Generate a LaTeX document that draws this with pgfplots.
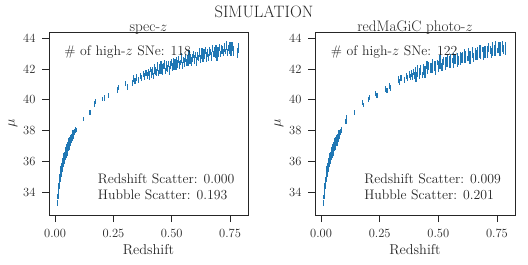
\documentclass[border=0pt]{standalone}
\usepackage{fontspec}
\usepackage{pgfplots}
\usepackage{pgfplotstable}
\pgfplotsset{compat=1.18}
\definecolor{tabblue}{HTML}{1F77B4}
\definecolor{axgray}{HTML}{262626}

\pgfplotstableread{
z mu e
0.010 33.22 0.14
0.011 33.28 0.18
0.012 33.69 0.12
0.013 33.70 0.16
0.014 33.99 0.20
0.015 33.93 0.13
0.016 34.22 0.17
0.017 34.43 0.15
0.018 34.39 0.14
0.019 34.72 0.18
0.020 34.58 0.12
0.021 34.83 0.16
0.022 34.88 0.20
0.023 35.09 0.13
0.024 34.95 0.17
0.025 35.24 0.15
0.026 35.32 0.14
0.027 35.25 0.18
0.028 35.55 0.12
0.029 35.47 0.16
0.030 35.67 0.20
0.031 35.53 0.13
0.032 35.75 0.17
0.033 35.90 0.15
0.034 35.79 0.14
0.035 36.07 0.18
0.036 35.88 0.12
0.037 36.08 0.16
0.038 36.09 0.20
0.039 36.26 0.13
0.040 36.09 0.17
0.041 36.34 0.15
0.042 36.39 0.14
0.043 36.29 0.18
0.044 36.56 0.12
0.045 36.45 0.16
0.046 36.62 0.20
0.047 36.46 0.13
0.048 36.66 0.17
0.049 36.78 0.15
0.050 36.66 0.14
0.051 36.91 0.18
0.052 36.71 0.12
0.053 36.89 0.16
0.054 36.88 0.20
0.055 37.04 0.13
0.056 36.85 0.17
0.057 37.09 0.15
0.058 37.12 0.14
0.059 37.00 0.18
0.060 37.26 0.12
0.061 37.14 0.16
0.062 37.30 0.20
0.063 37.12 0.13
0.064 37.31 0.17
0.065 37.42 0.15
0.066 37.29 0.14
0.067 37.53 0.18
0.068 37.32 0.12
0.069 37.49 0.16
0.070 37.47 0.20
0.071 37.62 0.13
0.072 37.42 0.17
0.073 37.65 0.15
0.074 37.67 0.14
0.075 37.55 0.18
0.076 37.80 0.12
0.077 37.67 0.16
0.078 37.82 0.20
0.079 37.64 0.13
0.080 37.82 0.17
0.082 37.96 0.15
0.084 37.84 0.14
0.086 38.02 0.18
0.0115 33.26 0.15
0.0135 34.08 0.17
0.0155 33.95 0.14
0.0175 34.60 0.16
0.0195 34.36 0.18
0.0215 35.00 0.15
0.0235 34.93 0.14
0.0255 35.50 0.17
0.0275 35.15 0.16
0.0295 35.73 0.15
0.0315 35.50 0.18
0.0335 36.06 0.14
0.0355 35.81 0.16
0.0375 36.36 0.17
0.0395 35.94 0.15
0.0415 36.43 0.18
0.0435 36.23 0.14
0.0455 36.76 0.16
0.0475 36.40 0.17
0.0495 36.88 0.15
0.0515 36.53 0.18
0.0535 37.10 0.14
0.0555 36.83 0.16
0.0575 37.31 0.17
0.0595 36.89 0.15
0.0615 37.39 0.18
0.0635 37.10 0.14
0.0655 37.55 0.16
0.0675 37.16 0.17
0.0695 37.64 0.15
0.0715 37.35 0.18
0.0735 37.86 0.14
0.0755 37.49 0.16
0.0775 37.87 0.17
0.0795 37.57 0.15
}\lowz

\pgfplotstableread{
z mu e
0.093 38.02 0.15
0.121 38.75 0.16
0.150 39.18 0.15
0.169 39.72 0.17
0.173 39.90 0.15
0.204 40.05 0.16
0.213 40.12 0.18
0.229 40.30 0.17
0.266 40.62 0.18
0.273 40.80 0.16
0.301 41.05 0.18
0.309 40.85 0.20
0.331 41.10 0.19
0.337 41.38 0.20
0.343 41.22 0.18
0.350 41.45 0.20
0.358 41.30 0.19
0.366 41.55 0.22
0.372 41.42 0.20
0.378 41.66 0.21
0.384 41.50 0.22
0.390 41.74 0.20
0.395 41.55 0.23
0.399 41.80 0.21
0.402 41.79 0.22
0.406 41.57 0.28
0.410 41.96 0.18
0.414 41.71 0.32
0.418 41.87 0.24
0.422 41.53 0.20
0.426 42.00 0.30
0.430 41.88 0.26
0.434 41.76 0.22
0.438 42.16 0.28
0.442 41.73 0.18
0.446 42.01 0.32
0.450 41.90 0.24
0.454 42.30 0.20
0.458 42.00 0.30
0.462 41.86 0.26
0.466 42.19 0.22
0.470 42.29 0.28
0.474 41.86 0.18
0.478 42.19 0.32
0.482 42.05 0.24
0.486 42.32 0.20
0.490 41.90 0.30
0.494 42.26 0.26
0.498 42.42 0.22
0.502 42.12 0.28
0.506 42.55 0.18
0.510 42.24 0.32
0.514 42.41 0.24
0.518 42.12 0.20
0.522 42.49 0.30
0.526 42.35 0.26
0.530 42.61 0.22
0.534 42.25 0.28
0.538 42.44 0.18
0.542 42.70 0.32
0.546 42.22 0.24
0.550 42.61 0.20
0.554 42.43 0.30
0.558 42.73 0.26
0.562 42.43 0.22
0.566 42.64 0.28
0.570 42.38 0.18
0.574 42.89 0.32
0.578 42.59 0.24
0.582 42.79 0.20
0.586 42.48 0.30
0.590 42.71 0.26
0.594 42.93 0.22
0.598 42.61 0.28
0.602 42.91 0.18
0.606 42.49 0.32
0.610 42.85 0.24
0.614 42.72 0.20
0.618 43.07 0.30
0.622 42.66 0.26
0.626 42.85 0.22
0.630 43.06 0.28
0.634 42.64 0.18
0.638 43.01 0.32
0.642 42.90 0.24
0.646 43.21 0.20
0.650 42.79 0.30
0.654 43.02 0.26
0.658 42.73 0.22
0.662 43.15 0.28
0.666 43.10 0.18
0.670 42.82 0.32
0.674 43.35 0.24
0.678 42.97 0.20
0.682 43.11 0.30
0.686 42.96 0.26
0.690 43.32 0.22
0.694 42.83 0.28
0.698 43.26 0.18
0.702 43.10 0.32
0.706 43.41 0.24
0.710 43.00 0.20
0.714 43.28 0.30
0.718 43.22 0.26
0.722 43.08 0.22
0.726 43.42 0.28
0.730 43.15 0.18
0.734 43.53 0.32
0.738 43.06 0.24
0.742 43.36 0.20
0.746 43.28 0.30
0.750 43.47 0.26
0.754 43.07 0.22
0.758 43.46 0.28
0.762 43.41 0.18
0.766 43.20 0.32
0.781 43.05 0.30
0.786 43.38 0.33
}\highzspec

\pgfplotstableread{
z mu e
0.088 38.05 0.15
0.106 38.60 0.16
0.110 38.85 0.15
0.144 39.15 0.16
0.175 39.80 0.17
0.180 39.65 0.15
0.202 40.02 0.16
0.208 40.15 0.18
0.232 40.40 0.17
0.238 40.28 0.16
0.275 40.70 0.18
0.281 40.58 0.17
0.290 40.88 0.19
0.296 40.75 0.18
0.330 41.32 0.20
0.335 41.18 0.19
0.341 41.42 0.18
0.356 41.30 0.20
0.364 41.55 0.21
0.370 41.40 0.20
0.376 41.62 0.22
0.382 41.48 0.20
0.387 41.70 0.21
0.391 41.52 0.22
0.395 41.78 0.20
0.399 41.60 0.23
0.405 41.49 0.32
0.404 41.86 0.24
0.411 41.65 0.20
0.411 41.97 0.30
0.420 41.62 0.26
0.422 41.86 0.22
0.425 41.95 0.28
0.433 41.60 0.18
0.437 42.03 0.32
0.436 41.88 0.24
0.443 42.00 0.20
0.443 41.74 0.30
0.452 42.25 0.26
0.454 41.90 0.22
0.457 42.21 0.28
0.465 41.90 0.18
0.469 42.09 0.32
0.468 42.18 0.24
0.475 41.93 0.20
0.475 42.38 0.30
0.484 42.10 0.26
0.486 42.30 0.22
0.489 41.91 0.28
0.497 42.44 0.18
0.501 42.12 0.32
0.500 42.30 0.24
0.507 42.20 0.20
0.507 42.61 0.30
0.516 42.12 0.26
0.518 42.44 0.22
0.521 42.52 0.28
0.529 42.14 0.18
0.533 42.46 0.32
0.532 42.27 0.24
0.539 42.73 0.20
0.539 42.45 0.30
0.548 42.60 0.26
0.550 42.27 0.22
0.553 42.72 0.28
0.561 42.55 0.18
0.565 42.40 0.32
0.564 42.83 0.24
0.571 42.52 0.20
0.571 42.69 0.30
0.580 42.36 0.26
0.582 42.82 0.22
0.585 42.56 0.28
0.593 42.91 0.18
0.597 42.73 0.32
0.596 42.53 0.24
0.603 42.88 0.20
0.603 42.72 0.30
0.612 43.05 0.26
0.614 42.58 0.22
0.617 42.88 0.28
0.625 42.69 0.18
0.629 43.03 0.32
0.628 42.77 0.24
0.635 42.98 0.20
0.635 42.63 0.30
0.644 43.15 0.26
0.646 42.92 0.22
0.649 42.77 0.28
0.657 43.17 0.18
0.661 42.94 0.32
0.660 43.12 0.24
0.667 42.78 0.20
0.667 43.11 0.30
0.676 42.98 0.26
0.678 43.32 0.22
0.681 42.93 0.28
0.689 43.26 0.18
0.693 43.14 0.32
0.692 42.82 0.24
0.699 43.28 0.20
0.699 43.05 0.30
0.708 43.22 0.26
0.710 42.93 0.22
0.713 43.39 0.28
0.721 43.32 0.18
0.725 43.04 0.32
0.724 43.21 0.24
0.731 43.55 0.20
0.731 43.18 0.30
0.740 43.33 0.26
0.742 43.09 0.22
0.745 43.56 0.28
0.753 43.20 0.18
0.757 43.35 0.32
0.756 43.51 0.24
0.763 43.08 0.20
0.763 43.45 0.30
0.772 43.34 0.26
0.774 43.62 0.22
0.777 43.26 0.28
0.785 43.35 0.42
}\highzphoto

\pgfplotsset{
  hub/.style={
    scale only axis, width=199bp, height=183bp,
    xmin=-0.026, xmax=0.827, ymin=32.5, ymax=44.41,
    xtick={0,0.25,0.5,0.75}, xticklabels={0.00,0.25,0.50,0.75},
    ytick={34,36,38,40,42,44},
    xtick pos=bottom, ytick pos=left,
    /pgf/number format/assume math mode=true,
    tick align=outside, major tick length=7bp,
    tick style={axgray, line width=0.9bp},
    axis line style={axgray, line width=0.8bp},
    tick label style={font=\fontsize{12.5bp}{15bp}\selectfont, text=axgray},
    xticklabel style={yshift=-4bp},
    yticklabel style={xshift=-3bp},
    label style={font=\fontsize{14.3bp}{17bp}\selectfont, text=axgray},
    xlabel={Redshift}, ylabel={$\mu$},
    x label style={at={(axis description cs:0.5,0)}, anchor=base, yshift=-39.7bp},
    y label style={at={(axis description cs:0,0.5)}, anchor=center, yshift=36bp},
    title style={at={(0.5,1)}, anchor=base, yshift=-5bp, font=\fontsize{15.2bp}{18bp}\selectfont, text=axgray},
    clip=false,
  },
  sne/.style={draw=none, mark=none,
    error bars/.cd, y dir=both, y explicit, error mark=none,
    error bar style={draw=tabblue, solid, line width=1.2bp}},
}

\begin{document}
\begin{tikzpicture}[x=1bp,y=1bp]
\path[use as bounding box] (0,0) rectangle (528,264);
\node[anchor=base, font=\fontsize{16.5bp}{19bp}\selectfont, text=axgray] at (264,246.3) {SIMULATION};

\begin{axis}[hub, at={(49bp,49bp)}, anchor=south west, title={spec-$z$}]
\addplot[sne] table[x=z, y=mu, y error=e] {\lowz};
\addplot[sne] table[x=z, y=mu, y error=e] {\highzspec};
\node[anchor=west, font=\fontsize{13.8bp}{16bp}\selectfont, text=axgray] at (rel axis cs:0.06,0.89) {\# of high-$z$ SNe: 118};
\node[anchor=west, font=\fontsize{13.8bp}{16bp}\selectfont, text=axgray] at (rel axis cs:0.228,0.198) {Redshift Scatter: 0.000};
\node[anchor=west, font=\fontsize{13.8bp}{16bp}\selectfont, text=axgray] at (rel axis cs:0.228,0.113) {Hubble Scatter: 0.193};
\end{axis}

\begin{axis}[hub, at={(315bp,49bp)}, anchor=south west, width=200bp, title={redMaGiC photo-$z$}]
\addplot[sne] table[x=z, y=mu, y error=e] {\lowz};
\addplot[sne] table[x=z, y=mu, y error=e] {\highzphoto};
\node[anchor=west, font=\fontsize{13.8bp}{16bp}\selectfont, text=axgray] at (rel axis cs:0.062,0.89) {\# of high-$z$ SNe: 122};
\node[anchor=west, font=\fontsize{13.8bp}{16bp}\selectfont, text=axgray] at (rel axis cs:0.229,0.198) {Redshift Scatter: 0.009};
\node[anchor=west, font=\fontsize{13.8bp}{16bp}\selectfont, text=axgray] at (rel axis cs:0.229,0.113) {Hubble Scatter: 0.201};
\end{axis}
\end{tikzpicture}
\end{document}
